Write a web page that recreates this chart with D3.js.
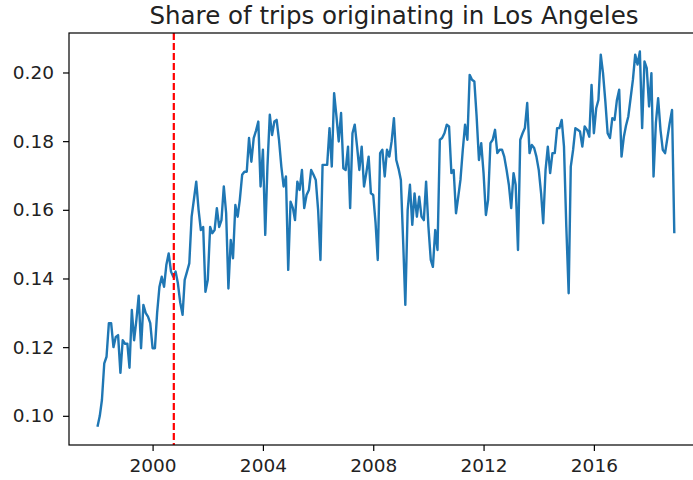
<!DOCTYPE html>
<html>
<head>
<meta charset="utf-8">
<script src="https://cdn.jsdelivr.net/npm/d3@7"></script>
<style>
  body { margin: 0; background: #fff; }
  svg { display: block; font-family: "DejaVu Sans", sans-serif; }
</style>
</head>
<body>
<script>
// monthly share of trips, Jan 1998 .. Dec 2018 (one row per year)
var startYear = 1998;
var shareValues = [
  0.0968, 0.1000, 0.1046, 0.1153, 0.1172, 0.1270, 0.1270, 0.1200, 0.1230, 0.1235, 0.1125, 0.1220, // 1998
  0.1210, 0.1210, 0.1140, 0.1308, 0.1220, 0.1280, 0.1350, 0.1197, 0.1323, 0.1300, 0.1289, 0.1270, // 1999
  0.1197, 0.1197, 0.1300, 0.1376, 0.1405, 0.1376, 0.1439, 0.1473, 0.1420, 0.1405, 0.1420, 0.1386, // 2000
  0.1330, 0.1294, 0.1396, 0.1420, 0.1444, 0.1580, 0.1630, 0.1682, 0.1600, 0.1541, 0.1550, 0.1361, // 2001
  0.1396, 0.1550, 0.1532, 0.1541, 0.1605, 0.1550, 0.1570, 0.1668, 0.1590, 0.1371, 0.1512, 0.1459, // 2002
  0.1614, 0.1580, 0.1629, 0.1702, 0.1711, 0.1711, 0.1809, 0.1740, 0.1809, 0.1830, 0.1857, 0.1668, // 2003
  0.1775, 0.1527, 0.1726, 0.1877, 0.1818, 0.1857, 0.1862, 0.1804, 0.1726, 0.1668, 0.1697, 0.1425, // 2004
  0.1624, 0.1605, 0.1570, 0.1682, 0.1658, 0.1716, 0.1605, 0.1643, 0.1658, 0.1716, 0.1702, 0.1687, // 2005
  0.1600, 0.1454, 0.1731, 0.1731, 0.1731, 0.1838, 0.1726, 0.1940, 0.1872, 0.1799, 0.1882, 0.1721, // 2006
  0.1716, 0.1784, 0.1605, 0.1823, 0.1848, 0.1784, 0.1716, 0.1784, 0.1668, 0.1707, 0.1755, 0.1648, // 2007
  0.1643, 0.1561, 0.1454, 0.1765, 0.1775, 0.1697, 0.1775, 0.1755, 0.1800, 0.1867, 0.1745, 0.1720, // 2008
  0.1687, 0.1503, 0.1323, 0.1600, 0.1673, 0.1556, 0.1648, 0.1580, 0.1638, 0.1580, 0.1570, 0.1682, // 2009
  0.1550, 0.1454, 0.1434, 0.1541, 0.1483, 0.1804, 0.1809, 0.1823, 0.1848, 0.1843, 0.1707, 0.1716, // 2010
  0.1590, 0.1640, 0.1687, 0.1775, 0.1848, 0.1804, 0.1993, 0.1979, 0.1974, 0.1872, 0.1745, 0.1794, // 2011
  0.1707, 0.1585, 0.1629, 0.1794, 0.1804, 0.1833, 0.1765, 0.1775, 0.1775, 0.1755, 0.1716, 0.1673, // 2012
  0.1605, 0.1707, 0.1673, 0.1483, 0.1804, 0.1823, 0.1838, 0.1911, 0.1765, 0.1789, 0.1780, 0.1755, // 2013
  0.1716, 0.1648, 0.1561, 0.1716, 0.1784, 0.1707, 0.1765, 0.1765, 0.1838, 0.1838, 0.1862, 0.1784, // 2014
  0.1550, 0.1357, 0.1726, 0.1775, 0.1838, 0.1833, 0.1828, 0.1784, 0.1843, 0.1833, 0.1813, 0.1964, // 2015
  0.1823, 0.1896, 0.1920, 0.2052, 0.1998, 0.1915, 0.1823, 0.1809, 0.1867, 0.1862, 0.1920, 0.1950, // 2016
  0.1755, 0.1813, 0.1845, 0.1872, 0.1925, 0.1979, 0.2052, 0.2023, 0.2061, 0.1838, 0.2032, 0.2013, // 2017
  0.1901, 0.1998, 0.1697, 0.1853, 0.1925, 0.1833, 0.1775, 0.1765, 0.1810, 0.1853, 0.1891, 0.1532  // 2018
];

var xTickYears = [2000, 2004, 2008, 2012, 2016];
var yTickValues = [0.10, 0.12, 0.14, 0.16, 0.18, 0.20];
var cutoverDate = new Date(2000, 9, 8); // red dashed marker
var chartTitle = 'Share of trips originating in Los Angeles';

var width = 693;
var height = 480;
var plotLeft = 69;
var plotRight = 703; // right spine sits just past the window edge
var plotTop = 33;
var plotBottom = 445;

var data = shareValues.map(function(v, i) {
  return { date: new Date(startYear, i, 1), value: v };
});

var x = d3.scaleTime()
  .domain([new Date(1996, 11, 20), new Date(2019, 11, 16)])
  .range([plotLeft, plotRight]);

var y = d3.scaleLinear()
  .domain([0.0915, 0.2115])
  .range([plotBottom, plotTop]);

var svg = d3.select('body').append('svg')
  .attr('width', width)
  .attr('height', height);

// axes
var xAxis = svg.append('g')
  .attr('transform', 'translate(0,' + plotBottom + ')')
  .call(d3.axisBottom(x)
    .tickValues(xTickYears.map(function(yr) { return new Date(yr, 0, 1); }))
    .tickFormat(d3.timeFormat('%Y'))
    .tickSize(6)
    .tickPadding(8));

var yAxis = svg.append('g')
  .attr('transform', 'translate(' + plotLeft + ',0)')
  .call(d3.axisLeft(y)
    .tickValues(yTickValues)
    .tickFormat(d3.format('.2f'))
    .tickSize(6)
    .tickPadding(9));

[xAxis, yAxis].forEach(function(ax) {
  ax.select('.domain').remove();
  ax.selectAll('.tick line').attr('stroke', '#000').attr('stroke-width', 1.2);
  ax.selectAll('.tick text')
    .attr('fill', '#222')
    .style('font-size', '18.5px')
    .style('font-family', '"DejaVu Sans", sans-serif');
});

// the series
var line = d3.line()
  .x(function(d) { return x(d.date); })
  .y(function(d) { return y(d.value); });

svg.append('path')
  .datum(data)
  .attr('d', line)
  .attr('fill', 'none')
  .attr('stroke', '#1f77b4')
  .attr('stroke-width', 2.4)
  .attr('stroke-linejoin', 'round');

// vertical marker
svg.append('line')
  .attr('x1', x(cutoverDate))
  .attr('x2', x(cutoverDate))
  .attr('y1', plotTop)
  .attr('y2', plotBottom)
  .attr('stroke', '#ff0000')
  .attr('stroke-width', 2.2)
  .attr('stroke-dasharray', '7,3');

// frame
svg.append('rect')
  .attr('x', plotLeft)
  .attr('y', plotTop)
  .attr('width', plotRight - plotLeft)
  .attr('height', plotBottom - plotTop)
  .attr('fill', 'none')
  .attr('stroke', '#000')
  .attr('stroke-width', 1.2);

svg.append('text')
  .attr('x', 394)
  .attr('y', 24)
  .attr('text-anchor', 'middle')
  .attr('fill', '#222')
  .style('font-size', '24.5px')
  .text(chartTitle);
</script>
</body>
</html>
